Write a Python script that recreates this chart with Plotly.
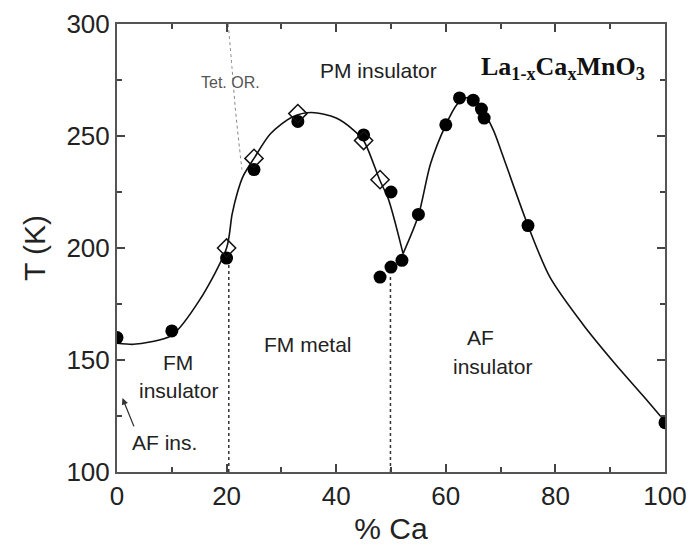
import plotly.graph_objects as go

# ---- data ----
circle_x = [0, 10, 20, 25, 33, 45, 50, 48, 50, 52, 55, 60, 62.5, 65, 66.5, 67, 75, 100]
circle_T = [160, 163, 195.5, 235, 256.5, 250.5, 225, 187, 191.5, 194.5, 215, 255, 267, 266, 262, 258, 210, 122]

diamond_x = [20, 25, 33, 45, 48]
diamond_T = [200, 240, 260, 248, 230.5]

left_curve_x = [0, 3, 6, 10, 15, 20, 21, 22, 23, 25, 28, 32, 35.5, 40, 43, 45, 48, 49.5, 52.2]
left_curve_T = [157.5, 157, 158, 161, 176.5, 200, 215, 225, 232, 240, 251, 258.5, 260.5, 258, 253, 248, 230, 222, 197.5]

right_curve_x = [52.2, 55, 57.2, 60, 62, 63.5, 65, 66.5, 68.7, 70, 75, 79, 85, 91, 96, 100]
right_curve_T = [197.5, 214.5, 237.5, 255, 264, 267, 266.5, 262.5, 252.5, 244, 210, 187, 166, 148, 134, 122.5]

boundary_x = [20.4, 49.9]
boundary_top = [194, 188]

tet_x = [20.3, 21.0, 21.6, 22.2, 22.8]
tet_T = [300, 280, 262, 248, 235]

x_ticks = [0, 20, 40, 60, 80, 100]
y_ticks = [100, 150, 200, 250, 300]

SANS = "Liberation Sans, Arial, sans-serif"
SERIF = "Liberation Serif, Times New Roman, serif"

fig = go.Figure()

# solid fitted curves
fig.add_trace(go.Scatter(x=left_curve_x, y=left_curve_T, mode="lines",
                         line=dict(color="#111", width=1.6, shape="spline", smoothing=0.8),
                         hoverinfo="skip", showlegend=False))
fig.add_trace(go.Scatter(x=right_curve_x, y=right_curve_T, mode="lines",
                         line=dict(color="#111", width=1.6, shape="spline", smoothing=0.8),
                         hoverinfo="skip", showlegend=False))

# dotted phase boundaries
for bx, bt in zip(boundary_x, boundary_top):
    fig.add_trace(go.Scatter(x=[bx, bx], y=[100, bt], mode="lines",
                             line=dict(color="#333", width=1.5, dash="dot"),
                             hoverinfo="skip", showlegend=False))

fig.add_trace(go.Scatter(x=tet_x, y=tet_T, mode="lines",
                         line=dict(color="#888", width=1, dash="dot", shape="spline"),
                         hoverinfo="skip", showlegend=False))

# data markers
fig.add_trace(go.Scatter(x=circle_x, y=circle_T, mode="markers",
                         marker=dict(symbol="circle", size=13, color="#000",
                                     line=dict(width=0)),
                         showlegend=False))
fig.add_trace(go.Scatter(x=diamond_x, y=diamond_T, mode="markers",
                         marker=dict(symbol="diamond-open", size=14, color="#111",
                                     line=dict(width=1.5)),
                         showlegend=False))

ann_font = dict(family=SANS, size=21, color="#222")
annotations = [
    dict(x=47.7, y=279.4, text="PM insulator", font=ann_font),
    dict(x=20.8, y=274, text="Tet. OR.", font=dict(family=SANS, size=16, color="#555")),
    dict(x=81.3, y=280.5, text="<b>La<sub>1-x</sub>Ca<sub>x</sub>MnO<sub>3</sub></b>",
         font=dict(family=SERIF, size=26, color="#111")),
    dict(x=34.8, y=156.7, text="FM metal", font=ann_font),
    dict(x=11.2, y=149, text="FM", font=ann_font),
    dict(x=11.3, y=136.5, text="insulator", font=ann_font),
    dict(x=66.3, y=160, text="AF", font=ann_font),
    dict(x=68.5, y=147.3, text="insulator", font=ann_font),
    dict(x=8.6, y=113, text="AF ins.", font=ann_font),
]
for a in annotations:
    fig.add_annotation(xref="x", yref="y", showarrow=False,
                       xanchor="center", yanchor="middle", **a)

# arrow pointing to AF ins. region at x≈0
fig.add_annotation(x=1.0, y=133, ax=3.2, ay=119.7, xref="x", yref="y",
                   axref="x", ayref="y", text="", showarrow=True,
                   arrowhead=2, arrowsize=1, arrowwidth=1.3, arrowcolor="#333")

axis_common = dict(showline=True, linecolor="#555", linewidth=2, mirror="ticks",
                   ticks="inside", ticklen=8, tickwidth=1.5, tickcolor="#444",
                   showgrid=False, zeroline=False, automargin=False,
                   tickfont=dict(family=SANS, size=26, color="#222"))

fig.update_xaxes(range=[0, 100], tickvals=x_ticks,
                 minor=dict(dtick=10, ticks="inside", ticklen=5, tickwidth=1.5, tickcolor="#444"),
                 title=dict(text="% Ca", font=dict(family=SANS, size=30, color="#222"), standoff=8),
                 **axis_common)
fig.update_yaxes(range=[100, 300], tickvals=y_ticks,
                 minor=dict(dtick=25, ticks="inside", ticklen=5, tickwidth=1.5, tickcolor="#444"),
                 title=dict(text="T (K)", font=dict(family=SANS, size=30, color="#222"), standoff=12),
                 **axis_common)

fig.update_layout(width=689, height=547,
                  margin=dict(l=117, r=24, t=24, b=75),
                  paper_bgcolor="white", plot_bgcolor="white")

fig.write_html("out.html")
